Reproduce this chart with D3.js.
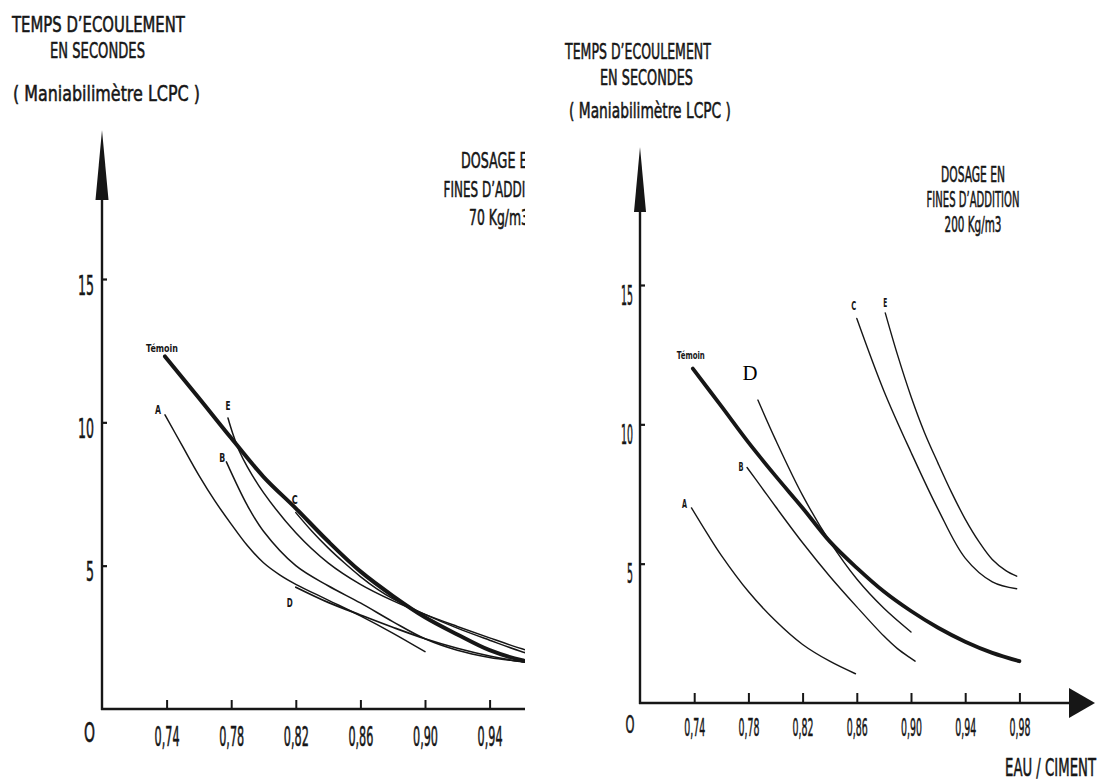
<!DOCTYPE html>
<html><head><meta charset="utf-8">
<script src="https://cdn.jsdelivr.net/npm/d3@7"></script>
<style>
html,body{margin:0;padding:0;background:#fff;}
svg text{font-family:"DejaVu Sans","Liberation Sans",sans-serif;fill:#161616;}
svg text.heavy{stroke:#161616;stroke-width:0.6px;}
</style></head><body>
<svg id="chart" width="1103" height="784"></svg>
<script>
// ---------------- data ----------------
const xTickValues = [0.74, 0.78, 0.82, 0.86, 0.90, 0.94, 0.98];
const yTickValues = [5, 10, 15];
const titleLines = ["TEMPS D’ECOULEMENT", "EN SECONDES", "( Maniabilimètre LCPC )"];
const leftDosage = ["DOSAGE EN", "FINES D’ADDITION", "70 Kg/m3"];
const rightDosage = ["DOSAGE EN", "FINES D’ADDITION", "200 Kg/m3"];
const originLabel = "O";
const xAxisTitle = "EAU / CIMENT";

// left panel : 70 Kg/m3  [eau/ciment, temps (s)]
const leftTemoin = [[0.739,12.3],[0.76,10.85],[0.78,9.45],[0.80,8.1],[0.82,7.0],[0.84,5.85],[0.86,4.8],[0.88,3.95],[0.90,3.2],[0.92,2.6],[0.94,2.05],[0.96,1.7],[0.98,1.5]];
const leftA = [[0.739,10.26],[0.75,9.15],[0.76,8.15],[0.77,7.25],[0.78,6.45],[0.79,5.7],[0.80,5.1],[0.81,4.68],[0.82,4.35],[0.84,3.8],[0.86,3.25],[0.88,2.65],[0.90,2.0]];
const leftB = [[0.777,8.62],[0.79,7.1],[0.80,6.2],[0.82,5.0],[0.84,4.3],[0.86,3.7],[0.88,3.05],[0.90,2.45],[0.92,2.05],[0.94,1.8],[0.96,1.65],[0.98,1.5]];
const leftC = [[0.82,6.85],[0.83,6.2],[0.84,5.62],[0.85,5.1],[0.86,4.62],[0.87,4.2],[0.88,3.85],[0.90,3.3],[0.92,2.82],[0.94,2.4],[0.96,2.0],[0.98,1.68]];
const leftD = [[0.82,4.25],[0.84,3.72],[0.86,3.28],[0.88,2.85],[0.90,2.45],[0.92,2.12],[0.94,1.85],[0.96,1.65],[0.98,1.55]];
const leftE = [[0.778,10.15],[0.781,9.6],[0.785,9.0],[0.79,8.45],[0.80,7.55],[0.82,6.15],[0.84,5.1],[0.86,4.35],[0.88,3.78],[0.90,3.3],[0.92,2.88],[0.94,2.48],[0.96,2.1],[0.98,1.78]];

// right panel : 200 Kg/m3
const rightTemoin = [[0.739,12.0],[0.76,10.65],[0.78,9.35],[0.80,8.15],[0.82,7.0],[0.84,5.8],[0.86,4.85],[0.88,4.0],[0.90,3.3],[0.92,2.7],[0.94,2.2],[0.96,1.8],[0.98,1.5]];
const rightA = [[0.738,7.0],[0.75,6.05],[0.76,5.3],[0.78,4.0],[0.80,2.95],[0.82,2.1],[0.84,1.5],[0.859,1.05]];
const rightB = [[0.779,8.45],[0.79,7.72],[0.80,7.05],[0.82,5.75],[0.84,4.55],[0.86,3.45],[0.88,2.4],[0.89,1.95],[0.90,1.6],[0.903,1.5]];
const rightC = [[0.86,13.8],[0.88,11.2],[0.90,9.0],[0.92,6.95],[0.94,5.2],[0.96,4.35],[0.978,4.1]];
const rightD = [[0.787,10.87],[0.80,9.45],[0.82,7.45],[0.84,5.8],[0.86,4.45],[0.88,3.4],[0.90,2.55]];
const rightE = [[0.881,14.0],[0.89,12.5],[0.90,11.0],[0.91,9.7],[0.92,8.6],[0.93,7.55],[0.94,6.6],[0.95,5.8],[0.96,5.15],[0.97,4.75],[0.978,4.55]];

// ---------------- drawing ----------------
const svg = d3.select("#chart");
svg.append("rect").attr("width",1103).attr("height",784).attr("fill","#fff");
const INK = "#161616";
const fmt = d => d3.format(".2f")(d).replace(".", ",");

// squeeze a text horizontally to a given width (condensed typeface look)
function squeeze(t, x, y, width) {
  let sx = 1;
  if (width) { const L = t.node().getComputedTextLength(); if (L > 0) sx = width / L; }
  t.attr("x", 0).attr("y", 0).attr("dy", null).attr("transform", `translate(${x},${y}) scale(${sx},1)`);
  return t;
}
function ctext(g, str, x, y, size, width, anchor) {
  const t = g.append("text").attr("class", "heavy").attr("font-size", size)
    .attr("text-anchor", anchor || "start").text(str);
  return squeeze(t, x, y, width);
}

function panel(cfg) {
  const g = svg.append("g");
  if (cfg.clip) {
    svg.append("defs").append("clipPath").attr("id", cfg.id + "clip")
      .append("rect").attr("x", 0).attr("y", 0).attr("width", cfg.clip).attr("height", 784);
    g.attr("clip-path", `url(#${cfg.id}clip)`);
  }
  const x = d3.scaleLinear().domain([0.70, 0.98]).range(cfg.xr);
  const y = d3.scaleLinear().domain([0, 15]).range(cfg.yr);
  const x0 = x(0.70), y0 = y(0);

  // titles
  cfg.title.forEach((t, i) => ctext(g, titleLines[i], t[0], t[1], t[2], t[3], "start"));
  cfg.dosage.forEach((t, i) => ctext(g, cfg.dosageText[i], cfg.dosageX, t[0], t[1], t[2], "middle"));

  // y axis line + arrow
  g.append("line").attr("x1", x0).attr("x2", x0).attr("y1", y0 + 1).attr("y2", cfg.yArrow[1])
    .attr("stroke", INK).attr("stroke-width", 2.4);
  g.append("path").attr("d", `M${x0 - cfg.yArrow[2]},${cfg.yArrow[1]}L${x0 + cfg.yArrow[2]},${cfg.yArrow[1]}L${x0},${cfg.yArrow[0]}Z`)
    .attr("fill", INK);
  // x axis line (+ arrow)
  g.append("line").attr("x1", x0 - 1).attr("x2", cfg.xEnd).attr("y1", y0).attr("y2", y0)
    .attr("stroke", INK).attr("stroke-width", 2.6);
  if (cfg.xArrow) {
    const a = cfg.xArrow;
    g.append("path").attr("d", `M${a[0]},${y0 - a[2]}L${a[0]},${y0 + a[2]}L${a[1]},${y0}Z`).attr("fill", INK);
  }

  // x axis ticks
  const xa = g.append("g").attr("transform", `translate(0,${y0})`)
    .call(d3.axisBottom(x).tickValues(xTickValues).tickSizeInner(-cfg.xTick).tickSizeOuter(0).tickFormat(fmt));
  xa.select(".domain").remove();
  xa.selectAll(".tick line").attr("stroke", INK).attr("stroke-width", 2);
  xa.selectAll(".tick text").attr("class", "heavy").attr("font-size", cfg.xLab[1]).attr("fill", INK)
    .attr("font-family", "'DejaVu Sans', sans-serif")
    .each(function () { squeeze(d3.select(this), 0, cfg.xLab[0], cfg.xLab[2]); });

  // y axis ticks
  const ya = g.append("g").attr("transform", `translate(${x0},0)`)
    .call(d3.axisLeft(y).tickValues(yTickValues).tickSizeInner(-5).tickSizeOuter(0));
  ya.select(".domain").remove();
  ya.selectAll(".tick line").attr("stroke", INK).attr("stroke-width", 2.2);
  ya.selectAll(".tick text").attr("class", "heavy").attr("font-size", cfg.yLab[2]).attr("fill", INK)
    .attr("font-family", "'DejaVu Sans', sans-serif")
    .each(function (d) { squeeze(d3.select(this), -cfg.yLab[0], cfg.yLab[1], String(d).length * cfg.yLab[3]); });

  ctext(g, originLabel, cfg.origin[0], cfg.origin[1], cfg.origin[2], cfg.origin[3], "middle");

  // curves
  const line = d3.line().x(d => x(d[0])).y(d => y(d[1])).curve(d3.curveCatmullRom.alpha(0.5));
  cfg.series.forEach(s => {
    g.append("path").datum(s.data).attr("d", line).attr("fill", "none")
      .attr("stroke", INK).attr("stroke-width", s.w).attr("stroke-linecap", "round");
    if (s.label) {
      const p = s.data[0];
      const t = g.append("text").attr("font-size", s.fs).attr("text-anchor", "middle").text(s.label);
      if (s.serif) t.style("font-family", "'Liberation Serif', 'Times New Roman', serif").style("fill", "#000");
      else t.attr("font-weight", 700);
      squeeze(t, x(p[0]) + s.off[0], y(p[1]) + s.off[1], s.lw);
    }
  });
  return g;
}

// ----- left panel (70 Kg/m3) -----
panel({
  id: "L", clip: 525,
  xr: [102, 102 + 0.28 * 1615], yr: [709, 279],
  title: [[12, 32, 22, 173], [50, 58, 22, 95], [13, 101, 22, 187]],
  dosageText: leftDosage, dosageX: 499,
  dosage: [[168, 22, 76], [197, 22, 111], [225, 22, 60]],
  yArrow: [130, 200, 6.5], xEnd: 560, xArrow: null, xTick: 9,
  xLab: [37, 26, 25], yLab: [8, 15, 27, 8],
  origin: [89.5, 742, 26, 11],
  series: [
    {data: leftA, w: 1.5, label: "A", off: [-7, -1], fs: 13, lw: 6},
    {data: leftB, w: 1.5, label: "B", off: [-4, 0], fs: 13, lw: 6},
    {data: leftE, w: 1.5, label: "E", off: [0, -8], fs: 13, lw: 5},
    {data: leftD, w: 1.7, label: "D", off: [-6, 20], fs: 13, lw: 6},
    {data: leftC, w: 1.5, label: "C", off: [-1, -9], fs: 13, lw: 6},
    {data: leftTemoin, w: 4, label: "Témoin", off: [-3, -4], fs: 11, lw: 32}
  ]
});

// ----- right panel (200 Kg/m3) -----
const gR = panel({
  id: "R", clip: null,
  xr: [640, 640 + 0.28 * 1355], yr: [703, 285],
  title: [[565, 59, 22, 146], [600, 85, 22, 93], [569, 118, 22, 162]],
  dosageText: rightDosage, dosageX: 973,
  dosage: [[182, 21, 64], [207, 21, 93], [232, 21, 57]],
  yArrow: [147, 212, 6], xEnd: 1070, xArrow: [1069, 1095, 15], xTick: 10,
  xLab: [33, 25, 21], yLab: [7, 19, 27, 6],
  origin: [630, 733, 25, 9],
  series: [
    {data: rightA, w: 1.4, label: "A", off: [-7, 0], fs: 12, lw: 5},
    {data: rightB, w: 1.4, label: "B", off: [-6, 3], fs: 12, lw: 5},
    {data: rightD, w: 1.4, label: "D", off: [-8, -20], fs: 20, lw: 15, serif: true},
    {data: rightC, w: 1.4, label: "C", off: [-3, -8], fs: 12, lw: 5},
    {data: rightE, w: 1.4, label: "E", off: [0, -6], fs: 12, lw: 4},
    {data: rightTemoin, w: 3.8, label: "Témoin", off: [-2, -10], fs: 11, lw: 28}
  ]
});
ctext(gR, xAxisTitle, 1096, 776, 25, 91, "end");
</script>
</body></html>
